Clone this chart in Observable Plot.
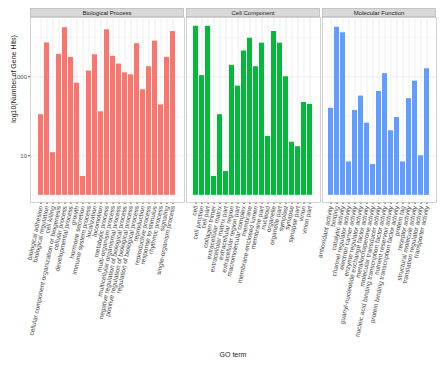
<!DOCTYPE html>
<html><head><meta charset="utf-8">
<script src="https://cdn.jsdelivr.net/npm/d3@7"></script>
<script src="https://cdn.jsdelivr.net/npm/@observablehq/plot@0.6"></script>
<style>
body{margin:0;background:#fff;font-family:"Liberation Sans",Arial,sans-serif;}
#wrap{position:relative;width:445px;height:365px;overflow:hidden;background:#fff;}
.strip{position:absolute;top:8px;height:9px;background:#d9d9d9;border:0.5px solid #c4c4c4;box-sizing:border-box;font-size:6px;line-height:8px;text-align:center;color:#1a1a1a;}
.panel{position:absolute;top:17px;}
.panel svg{overflow:visible;}
.panel svg g[aria-label="y-axis tick label"]{font-size:6px;}
#ytitle{position:absolute;left:13px;top:79px;transform:translate(-50%,-50%) rotate(-90deg);font-size:7px;white-space:nowrap;color:#1a1a1a;}
#xtitle{position:absolute;left:233px;top:354px;transform:translate(-50%,-50%);font-size:7px;white-space:nowrap;color:#1a1a1a;}
</style></head>
<body>
<div id="wrap"></div>
<script>
const facetNames = ["Biological Process", "Cell Component", "Molecular Function"];
const facetColors = ["#F8766D", "#00BA38", "#619CFF"];

const bpTerms = ["biological adhesion","biological regulation","cell killing","cellular component organization or biogenesis","cellular process","developmental process","growth","hormone secretion","immune system process","localization","locomotion","metabolic process","multi-organism process","multicellular organismal process","negative regulation of biological process","positive regulation of biological process","regulation of biological process","reproduction","reproductive process","response to stimulus","rhythmic process","signaling","single-organism process"];
const bpValues = [110, 7200, 12, 3700, 17500, 3100, 690, 3, 1400, 3600, 130, 15500, 3300, 2100, 1260, 1120, 6900, 470, 1800, 8000, 195, 3100, 14000];

const ccTerms = ["cell","cell junction","cell part","collagen trimer","extracellular matrix","extracellular matrix part","extracellular region","extracellular region part","macromolecular complex","membrane","membrane-enclosed lumen","membrane part","nucleoid","organelle","organelle part","symplast","synapse","synapse part","virion","virion part"];
const ccValues = [19000, 1070, 19000, 3, 110, 4, 1950, 580, 4500, 9500, 1800, 7100, 31, 14000, 7100, 1000, 22, 17, 225, 200];

const mfTerms = ["antioxidant activity","binding","catalytic activity","channel regulator activity","electron carrier activity","enzyme regulator activity","guanyl-nucleotide exchange factor activity","metallochaperone activity","molecular transducer activity","nucleic acid binding transcription factor activity","nutrient reservoir activity","protein binding transcription factor activity","protein tag","receptor activity","structural molecule activity","translation regulator activity","transporter activity"];
const mfValues = [160, 18000, 13000, 7, 140, 325, 67, 6, 425, 1200, 43, 93, 7, 280, 775, 10, 1600];

const yTicks = [10, 1000];
const yMinor = [1, 100, 10000];
const yTitle = "log10(Number of Gene Hits)";
const xTitle = "GO term";

const wrap = document.getElementById("wrap");
const panels = [
  {terms: bpTerms, values: bpValues, left: 30, width: 154, showY: true},
  {terms: ccTerms, values: ccValues, left: 186, width: 134, showY: false},
  {terms: mfTerms, values: mfValues, left: 322, width: 114, showY: false}
];

panels.forEach((p, i) => {
  const data = p.terms.map((t, j) => ({term: t, v: p.values[j]}));
  const ml = p.showY ? 30 : 0;
  const chart = Plot.plot({
    width: p.width + ml,
    height: 345,
    marginTop: 0, marginBottom: 160, marginLeft: ml, marginRight: 0,
    style: {background: "transparent", overflow: "visible", fontFamily: "'Liberation Sans', Arial, sans-serif", fontSize: "6.5px", color: "#4d4d4d"},
    x: {type: "band", domain: p.terms, paddingInner: 0.1, paddingOuter: 0.15, label: null, tickRotate: -78, tickSize: 2, tickPadding: 1.5},
    y: {type: "log", domain: [0.658, 31700], label: null, ticks: yTicks, tickFormat: d => String(d), tickSize: 2, tickPadding: 1.5, axis: p.showY ? "left" : null},
    marks: [
      Plot.ruleY(yMinor, {stroke: "#f4f4f4", strokeWidth: 0.6}),
      Plot.ruleY(yTicks, {stroke: "#ebebeb", strokeWidth: 0.8}),
      Plot.ruleX(p.terms, {x: d => d, stroke: "#ebebeb", strokeWidth: 0.8}),
      Plot.barY(data, {x: "term", y1: 1, y2: "v", fill: facetColors[i]}),
      Plot.frame({stroke: "#c8c8c8", strokeWidth: 0.8})
    ]
  });
  const div = document.createElement("div");
  div.className = "panel";
  div.style.left = (p.left - ml) + "px";
  div.appendChild(chart);
  wrap.appendChild(div);

  const s = document.createElement("div");
  s.className = "strip";
  s.style.left = p.left + "px";
  s.style.width = p.width + "px";
  s.textContent = facetNames[i];
  wrap.appendChild(s);
});

const yt = document.createElement("div");
yt.id = "ytitle"; yt.textContent = yTitle; wrap.appendChild(yt);
const xt = document.createElement("div");
xt.id = "xtitle"; xt.textContent = xTitle; wrap.appendChild(xt);
</script>
</body></html>
